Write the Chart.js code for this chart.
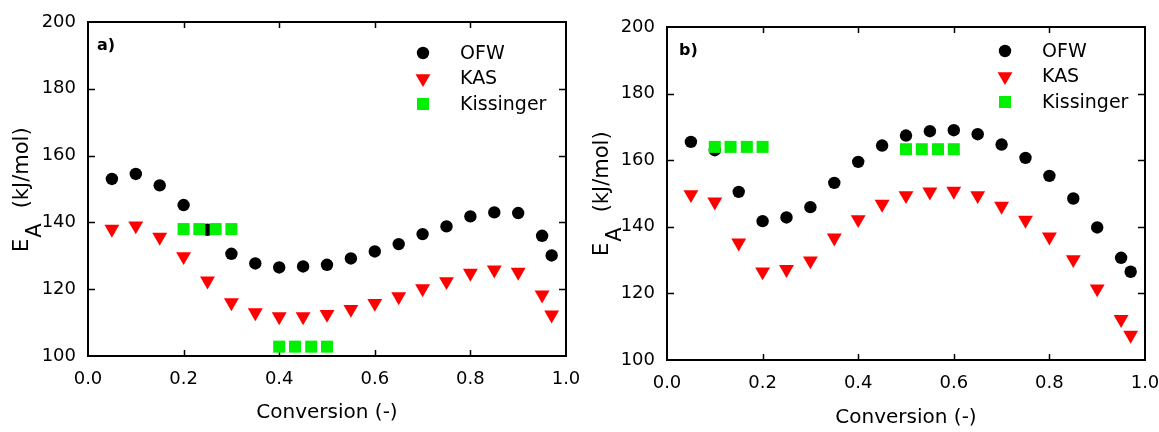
<!DOCTYPE html>
<html><head><meta charset="utf-8">
<script src="https://cdn.jsdelivr.net/npm/chart.js@4/dist/chart.umd.min.js"></script>
<style>
html,body{margin:0;padding:0;background:#fff;}
#wrap{position:relative;width:1159px;height:432px;overflow:hidden;background:#fff;}
.panel{position:absolute;top:0;height:432px;}
</style></head><body>
<div id="wrap">
<div class="panel" style="left:0;width:580px"><canvas id="ca" width="580" height="432"></canvas></div>
<div class="panel" style="left:580px;width:579px"><canvas id="cb" width="579" height="432"></canvas></div>
</div>
<script>
// ---- data ----
const conversion = [0.05,0.10,0.15,0.20,0.25,0.30,0.35,0.40,0.45,0.50,0.55,0.60,0.65,0.70,0.75,0.80,0.85,0.90,0.95,0.97];
const ofwA = [153.0,154.5,151.1,145.2,137.8,130.6,127.7,126.5,126.8,127.3,129.2,131.3,133.5,136.5,138.8,141.8,143.0,142.8,136.0,130.1];
const kasA = [138.0,139.0,135.6,129.8,122.5,116.0,113.0,111.8,111.8,112.5,114.0,115.8,117.8,120.2,122.3,124.8,125.8,125.1,118.3,112.3];
const kissXA = [0.20,0.233,0.267,0.30,0.40,0.433,0.467,0.50];
const kissA = [138.0,138.0,138.0,138.0,102.8,102.8,102.8,102.8];
const ofwB = [165.5,163.0,150.5,141.7,142.8,145.9,153.2,159.5,164.4,167.4,168.7,169.0,167.8,164.7,160.7,155.3,148.5,139.8,130.7,126.5];
const kasB = [149.7,147.5,135.2,126.5,127.2,129.8,136.7,142.2,146.8,149.4,150.5,150.7,149.4,146.2,142.0,137.0,130.2,121.4,112.2,107.5];
const kissXB = [0.10,0.133,0.167,0.20,0.50,0.533,0.567,0.60];
const kissB = [164.0,164.0,164.0,164.0,163.3,163.3,163.3,163.3];
const seriesNames = ['OFW','KAS','Kissinger'];
const panelLabels = ['a)','b)'];
const xTitle = 'Conversion (-)';
const yTitleMain = 'E';
const yTitleSub = 'A';
const yTitleUnit = '(kJ/mol)';

const FONT = "'DejaVu Sans', 'Liberation Sans', sans-serif";
Chart.defaults.font.family = FONT;
Chart.defaults.color = '#000';

function pts(xs, ys){ return xs.map((x,i)=>({x:x, y:ys[i]})); }

function drawMarker(ctx, style, r, x, y, color){
  ctx.save();
  ctx.fillStyle = color;
  ctx.beginPath();
  if (style === 'circle') {
    ctx.arc(x, y, r, 0, Math.PI*2);
  } else if (style === 'triangle') {
    ctx.moveTo(x - r*0.866, y - r*0.5);
    ctx.lineTo(x + r*0.866, y - r*0.5);
    ctx.lineTo(x, y + r);
    ctx.closePath();
  } else {
    const s = r*Math.SQRT1_2;
    ctx.rect(x - s, y - s, 2*s, 2*s);
  }
  ctx.fill();
  ctx.restore();
}

const decor = {
  id: 'decor',
  beforeDatasetsDraw(chart, args, o){
    const ctx = chart.ctx, a = chart.chartArea;
    ctx.save();
    ctx.strokeStyle = '#000';
    ctx.lineWidth = 2;
    ctx.strokeRect(a.left, a.top, a.right - a.left, a.bottom - a.top);
    ctx.lineWidth = 1.5;
    ctx.beginPath();
    chart.scales.x.ticks.forEach(t => {
      if (t.value <= 0 || t.value >= 1) return;
      const px = Math.round(chart.scales.x.getPixelForValue(t.value)) + 0.5;
      ctx.moveTo(px, a.bottom); ctx.lineTo(px, a.bottom - 6);
      ctx.moveTo(px, a.top); ctx.lineTo(px, a.top + 6);
    });
    chart.scales.y.ticks.forEach(t => {
      if (t.value <= 100 || t.value >= 200) return;
      const py = Math.round(chart.scales.y.getPixelForValue(t.value)) + 0.5;
      ctx.moveTo(a.left, py); ctx.lineTo(a.left + 7, py);
      ctx.moveTo(a.right, py); ctx.lineTo(a.right - 7, py);
    });
    ctx.stroke();
    ctx.restore();
  },
  afterDraw(chart, args, o){
    const ctx = chart.ctx, a = chart.chartArea;
    ctx.save();
    // panel label
    ctx.fillStyle = '#000';
    ctx.font = 'bold 16px ' + FONT;
    ctx.textBaseline = 'alphabetic';
    ctx.textAlign = 'left';
    ctx.fillText(o.label, a.left + o.labelDX, a.top + o.labelDY);
    // legend
    ctx.font = '19px ' + FONT;
    ctx.textBaseline = 'middle';
    chart.data.datasets.forEach((ds, i) => {
      const mx = a.left + o.legDX, my = a.top + o.legDY + i * o.legStep;
      drawMarker(ctx, ds.pointStyle, ds.pointRadius, mx, my, ds.backgroundColor);
      ctx.fillStyle = '#000';
      ctx.fillText(ds.label, mx + 37, my + 1);
    });
    // y title with subscript
    ctx.translate(o.ytX, o.ytY);
    ctx.rotate(-Math.PI/2);
    ctx.textBaseline = 'alphabetic';
    ctx.font = '21px ' + FONT;
    ctx.fillText(yTitleMain, 0, 0);
    const w = ctx.measureText(yTitleMain).width;
    ctx.fillText(yTitleSub, w + 1, 13);
    const w2 = ctx.measureText(yTitleSub).width;
    ctx.fillText(yTitleUnit, w + w2 + 16, 0);
    ctx.restore();
  }
};

function zeroPad(s){ s.paddingLeft = 0; s.paddingRight = 0; s.paddingTop = 0; s.paddingBottom = 0; }

function makeChart(id, ofw, kas, kx, ky, p){
  return new Chart(document.getElementById(id), {
    type: 'scatter',
    data: {
      datasets: [
        {label: seriesNames[0], data: pts(conversion, ofw), pointStyle: 'circle', pointRadius: 6.2, backgroundColor: '#000000', borderWidth: 0, order: 3},
        {label: seriesNames[1], data: pts(conversion, kas), pointStyle: 'triangle', pointRotation: 180, pointRadius: 8.6, backgroundColor: '#ff0000', borderWidth: 0, order: 2},
        {label: seriesNames[2], data: pts(kx, ky), pointStyle: 'rect', pointRadius: 8.5, backgroundColor: '#00f000', borderWidth: 0, order: 1}
      ]
    },
    options: {
      responsive: false,
      animation: false,
      events: [],
      layout: {padding: {left: 0, right: p.padR, top: p.padT, bottom: 0}},
      plugins: {legend: {display: false}, tooltip: {enabled: false},
        decor: {label: p.label, labelDX: p.labelDX, labelDY: p.labelDY, legDX: p.legDX, legDY: p.legDY, legStep: 25.5, ytX: p.ytX, ytY: p.ytY}},
      scales: {
        x: {
          type: 'linear', min: 0, max: 1,
          afterFit: s => { s.height = p.xH; zeroPad(s); },
          grid: {display: false, drawTicks: false},
          border: {display: true, color: '#000', width: 2},
          ticks: {stepSize: 0.2, padding: p.xTickPad, font: {size: 18}, color: '#000', maxRotation: 0,
            callback: v => Number(v).toFixed(1)},
          title: {display: true, text: xTitle, font: {size: 20}, color: '#000', padding: {top: 0, bottom: p.xTitlePad}}
        },
        y: {
          type: 'linear', min: 100, max: 200,
          afterFit: s => { s.width = p.yW; zeroPad(s); },
          grid: {display: false, drawTicks: false},
          border: {display: true, color: '#000', width: 2},
          ticks: {stepSize: 20, padding: 12, font: {size: 18}, color: '#000'}
        }
      }
    },
    plugins: [decor]
  });
}

makeChart('ca', ofwA, kasA, kissXA, kissA, {padR: 14, padT: 22, xH: 76, yW: 88, xTickPad: 13, xTitlePad: 7,
  label: panelLabels[0], labelDX: 9, labelDY: 28, legDX: 335, legDY: 31, ytX: 28, ytY: 252});
makeChart('cb', ofwB, kasB, kissXB, kissB, {padR: 14, padT: 27, xH: 72, yW: 87, xTickPad: 13, xTitlePad: 2,
  label: panelLabels[1], labelDX: 12, labelDY: 28, legDX: 338, legDY: 24, ytX: 28, ytY: 256});
</script>
</body></html>
